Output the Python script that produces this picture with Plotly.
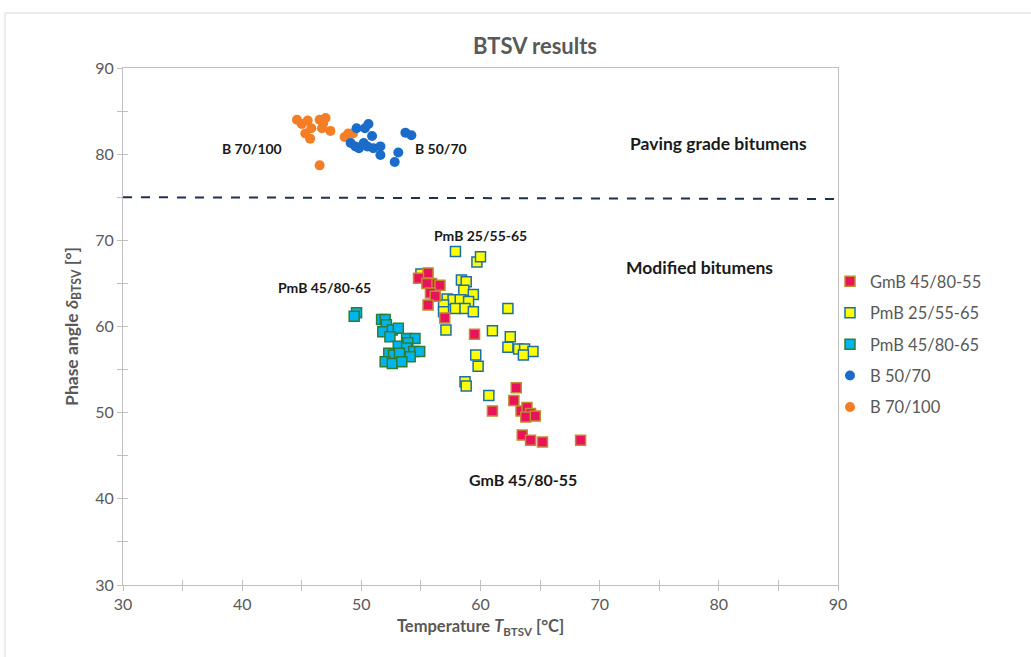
import plotly.graph_objects as go

# ---- data ----
b70_x = [44.6, 45.0, 45.5, 45.8, 45.3, 45.7, 46.5, 46.8, 46.7, 47.4, 47.0, 48.6, 48.9, 49.3, 46.5]
b70_y = [84.0, 83.5, 83.9, 83.0, 82.4, 81.8, 84.0, 83.6, 83.0, 82.7, 84.2, 82.0, 82.4, 82.4, 78.7]

b50_x = [50.6, 50.3, 49.6, 50.9, 53.7, 54.2, 49.1, 49.5, 50.2, 50.5, 51.0, 51.6, 51.6, 53.1, 52.8, 49.8]
b50_y = [83.5, 83.0, 83.0, 82.1, 82.5, 82.2, 81.3, 80.9, 81.3, 80.9, 80.7, 80.9, 79.9, 80.2, 79.1, 80.7]

pmb45_x = [49.6, 49.4, 51.7, 52.0, 52.1, 51.8, 52.6, 53.1, 52.4, 53.8, 54.5, 53.9, 53.1, 53.8, 54.4, 54.9,
           52.3, 52.7, 53.2, 54.1, 52.0, 52.6, 53.4]
pmb45_y = [61.6, 61.2, 60.8, 60.8, 60.2, 59.4, 59.6, 59.8, 58.8, 58.6, 58.6, 58.1, 57.7, 57.5, 57.1, 57.1,
           56.9, 56.7, 56.9, 56.5, 55.9, 55.7, 55.9]

pmb25_x = [57.9, 59.7, 60.0, 55.0, 58.4, 58.8, 58.6, 59.4, 57.2, 57.7, 58.3, 59.0, 56.9, 57.9, 58.7, 59.4,
           56.9, 62.3, 57.1, 61.0, 62.5, 62.3, 63.2, 63.7, 64.4, 63.6, 59.6, 59.8, 58.7, 58.8, 60.7]
pmb25_y = [68.7, 67.5, 68.1, 66.1, 65.4, 65.2, 64.2, 63.7, 63.2, 63.1, 63.1, 62.9, 62.5, 62.1, 62.1, 61.7,
           61.7, 62.1, 59.6, 59.5, 58.8, 57.6, 57.4, 57.4, 57.1, 56.7, 56.7, 55.4, 53.6, 53.1, 52.0]

gmb_x = [55.6, 54.8, 55.9, 56.6, 55.5, 55.8, 56.2, 55.6, 57.0, 59.5, 61.0, 63.0, 62.8, 63.4, 63.9, 64.2,
         63.8, 64.6, 63.5, 64.2, 65.2, 68.4]
gmb_y = [66.2, 65.6, 65.0, 64.8, 65.0, 63.9, 63.5, 62.5, 61.0, 59.1, 50.2, 52.9, 51.4, 50.2, 50.6, 49.9,
         49.5, 49.6, 47.4, 46.8, 46.6, 46.8]

FONT = "Lato"
GRAY = "#595959"

fig = go.Figure()

fig.add_trace(go.Scatter(x=b70_x, y=b70_y, mode="markers", name="B 70/100", legendrank=5,
                         legendgroup="e",
                         marker=dict(symbol="circle", size=10, color="#F57E25", line=dict(width=0))))
fig.add_trace(go.Scatter(x=b50_x, y=b50_y, mode="markers", name="B 50/70", legendrank=4,
                         legendgroup="d",
                         marker=dict(symbol="circle", size=10, color="#1A6CC8", line=dict(width=0))))
fig.add_trace(go.Scatter(x=pmb45_x, y=pmb45_y, mode="markers", name="PmB 45/80-65", legendrank=3,
                         legendgroup="c",
                         marker=dict(symbol="square", size=10, color="#00B4EE",
                                     line=dict(width=1.5, color="#2E7D32"))))
fig.add_trace(go.Scatter(x=pmb25_x, y=pmb25_y, mode="markers", name="PmB 25/55-65", legendrank=2,
                         legendgroup="b",
                         marker=dict(symbol="square", size=10, color="#FFFF00",
                                     line=dict(width=1.5, color="#1C6FA6"))))
fig.add_trace(go.Scatter(x=gmb_x, y=gmb_y, mode="markers", name="GmB 45/80-55", legendrank=1,
                         legendgroup="a",
                         marker=dict(symbol="square", size=10, color="#E8135A",
                                     line=dict(width=1.5, color="#C08A2E"))))

# dashed separation line
fig.add_shape(type="line", x0=30, y0=75, x1=90, y1=74.8, xref="x", yref="y",
              line=dict(color="#1F3050", width=2, dash="dash"))

# outer frame
fig.add_shape(type="rect", xref="paper", yref="paper",
              x0=(5 - 123) / 715, x1=(1045 - 123) / 715,
              y0=(585 - 670) / 517, y1=(585 - 13) / 517,
              line=dict(color="#D9D9D9", width=1), layer="below")

labels = [
    ("B 70/100", 40.8, 80.7, 14),
    ("B 50/70", 56.7, 80.7, 14),
    ("Paving grade bitumens", 80.0, 81.2, 17.5),
    ("Modified bitumens", 78.4, 66.8, 17.5),
    ("PmB 25/55-65", 60.0, 70.6, 14),
    ("PmB 45/80-65", 46.9, 64.5, 14),
    ("GmB 45/80-55", 63.6, 42.2, 16),
]
for t, x, y, s in labels:
    fig.add_annotation(x=x, y=y, text="<b>" + t + "</b>", showarrow=False,
                       font=dict(family=FONT, size=s, color="#1a1a1a"))

axis_common = dict(showline=True, linecolor="#BFBFBF", linewidth=1, mirror=True,
                   showgrid=False, zeroline=False, ticks="outside", ticklen=5,
                   tickcolor="#BFBFBF", tickwidth=1,
                   tickfont=dict(family=FONT, size=16, color=GRAY))

fig.update_layout(
    width=1031, height=657,
    margin=dict(l=123, r=193, t=68, b=72),
    paper_bgcolor="white", plot_bgcolor="white",
    title=dict(text="<b>BTSV results</b>", x=535 / 1031, xanchor="center",
               y=1 - 46 / 657, yanchor="middle",
               font=dict(family=FONT, size=22, color=GRAY)),
    xaxis=dict(range=[30, 90], dtick=10, tick0=30,
               minor=dict(dtick=5, ticks="outside", ticklen=5, tickcolor="#BFBFBF"),
               title=dict(text="<b>Temperature <i>T</i><sub>BTSV</sub> [°C]</b>",
                          font=dict(family=FONT, size=16.5, color=GRAY), standoff=8),
               **axis_common),
    yaxis=dict(range=[30, 90], dtick=10, tick0=30,
               minor=dict(dtick=5, ticks="outside", ticklen=5, tickcolor="#BFBFBF"),
               title=dict(text="<b>Phase angle <i>δ</i><sub>BTSV</sub> [°]</b>",
                          font=dict(family=FONT, size=17.5, color=GRAY), standoff=12),
               **axis_common),
    xaxis2=dict(range=[30, 90], overlaying="x", dtick=10, tick0=30, ticks="inside", ticklen=5,
                tickcolor="#BFBFBF", showticklabels=False, showgrid=False, zeroline=False,
                minor=dict(dtick=5, ticks="inside", ticklen=5, tickcolor="#BFBFBF"),
                side="bottom", anchor="y"),
    yaxis2=dict(range=[30, 90], overlaying="y", dtick=10, tick0=30, ticks="inside", ticklen=5,
                tickcolor="#BFBFBF", showticklabels=False, showgrid=False, zeroline=False,
                minor=dict(dtick=5, ticks="inside", ticklen=5, tickcolor="#BFBFBF"),
                side="left", anchor="x"),
    legend=dict(x=(830 - 123) / 715, y=(585 - 264) / 517, xanchor="left", yanchor="top",
                font=dict(family=FONT, size=16.5, color=GRAY), tracegroupgap=7,
                bgcolor="rgba(0,0,0,0)", itemwidth=30),
    showlegend=True,
)

# invisible trace to activate secondary axes for the crossing ticks
fig.add_trace(go.Scatter(x=[None], y=[None], xaxis="x2", yaxis="y2", showlegend=False,
                         hoverinfo="skip"))

fig.write_html("out.html")
